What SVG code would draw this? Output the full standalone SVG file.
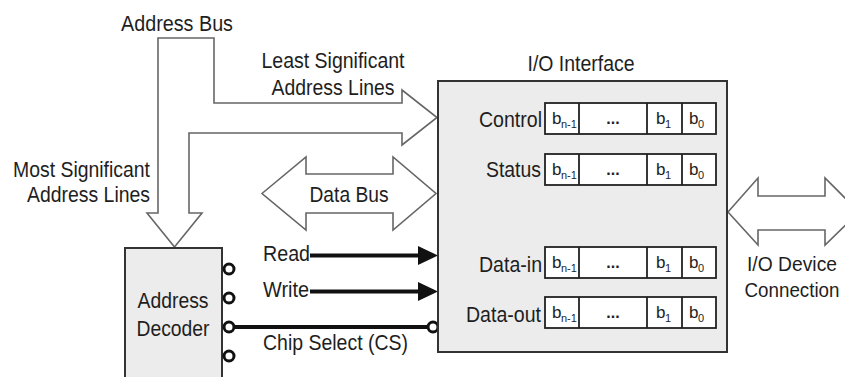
<svg xmlns="http://www.w3.org/2000/svg" width="845" height="377" viewBox="0 0 845 377">
<defs>
<style>
text{font-family:"Liberation Sans",Arial,sans-serif;font-size:22px;fill:#1e1e1e}
.mid{text-anchor:middle}
.end{text-anchor:end}
.edge{font-size:20px}
.bus{fill:#fff;stroke:#666;stroke-width:1.6;stroke-linejoin:miter}
.box{fill:#ececec;stroke:#333;stroke-width:2}
.cell{fill:#fff;stroke:#222;stroke-width:1.8}
.b{font-size:17px}
.sub{font-size:11px}
.dots{font-size:16px;font-weight:bold}
.sig{stroke:#111;stroke-width:4;fill:none}
.bub{fill:#fff;stroke:#111;stroke-width:3}
.head{fill:#111}
</style>
<g id="reg">
<rect class="cell" x="0" y="0" width="171" height="31"/>
<line x1="34" y1="0" x2="34" y2="31" stroke="#222" stroke-width="1.8"/>
<line x1="102" y1="0" x2="102" y2="31" stroke="#222" stroke-width="1.8"/>
<line x1="137" y1="0" x2="137" y2="31" stroke="#222" stroke-width="1.8"/>
<text class="b" x="7" y="21">b</text><text class="sub" x="16" y="25">n-1</text>
<text class="dots mid" x="68" y="21">...</text>
<text class="b" x="111" y="21">b</text><text class="sub" x="120" y="25">1</text>
<text class="b" x="144" y="21">b</text><text class="sub" x="153" y="25">0</text>
</g>
</defs>

<g id="connectors">
<path id="address-bus" class="bus" d="M158,38 L214,38 L214,103 L402,103 L402,90 L437,117.5 L402,145 L402,133 L189,133 L189,213 L202,213 L174.5,247 L147,213 L158,213 Z"/>
<path id="data-bus" class="bus" d="M262,193.5 L306,157 L306,174 L393,174 L393,157 L436,193.5 L393,230 L393,213 L306,213 L306,230 Z"/>
<path id="io-device-bus" class="bus" d="M728,212 L758,178 L758,196 L825,196 L825,178 L859,212 L825,245 L825,230 L758,230 L758,245 Z"/>
<g id="read">
<line class="sig" x1="310" y1="255.5" x2="422" y2="255.5"/>
<polygon class="head" points="418,246 438,255.5 418,265"/>
</g>
<g id="write">
<line class="sig" x1="310" y1="291.5" x2="422" y2="291.5"/>
<polygon class="head" points="418,282 438,291.5 418,301"/>
</g>
<g id="chip-select">
<line class="sig" x1="234" y1="327" x2="428" y2="327"/>
<circle class="bub" cx="433" cy="327" r="5"/>
</g>
</g>

<g id="labels">
<text class="mid" x="177" y="31" textLength="112" lengthAdjust="spacingAndGlyphs">Address Bus</text>
<text class="mid" x="333" y="68" textLength="143" lengthAdjust="spacingAndGlyphs">Least Significant</text>
<text class="mid" x="333" y="95" textLength="123" lengthAdjust="spacingAndGlyphs">Address Lines</text>
<text class="end" x="150" y="177" textLength="137" lengthAdjust="spacingAndGlyphs">Most Significant</text>
<text class="end" x="150" y="202" textLength="123" lengthAdjust="spacingAndGlyphs">Address Lines</text>
<text class="mid" x="349" y="202" textLength="79" lengthAdjust="spacingAndGlyphs">Data Bus</text>
<text x="263" y="261" textLength="47" lengthAdjust="spacingAndGlyphs">Read</text>
<text x="263" y="297" textLength="46" lengthAdjust="spacingAndGlyphs">Write</text>
<text x="263" y="350" textLength="145" lengthAdjust="spacingAndGlyphs">Chip Select (CS)</text>
<text class="mid edge" x="792" y="271" textLength="90" lengthAdjust="spacingAndGlyphs">I/O Device</text>
<text class="mid edge" x="792" y="297" textLength="95" lengthAdjust="spacingAndGlyphs">Connection</text>
</g>

<g id="address-decoder">
<rect class="box" x="125" y="248" width="97" height="150"/>
<text class="mid" x="173" y="308" textLength="71" lengthAdjust="spacingAndGlyphs">Address</text>
<text class="mid" x="173" y="336" textLength="73" lengthAdjust="spacingAndGlyphs">Decoder</text>
<circle class="bub" cx="229" cy="269" r="5"/>
<circle class="bub" cx="229" cy="298" r="5"/>
<circle class="bub" cx="229" cy="327" r="5"/>
<circle class="bub" cx="229" cy="356" r="5"/>
</g>

<g id="io-interface">
<text class="mid" x="581" y="71" textLength="107" lengthAdjust="spacingAndGlyphs">I/O Interface</text>
<rect class="box" x="438" y="81" width="289" height="271"/>
<text class="end" x="542" y="127" textLength="63" lengthAdjust="spacingAndGlyphs">Control</text>
<use href="#reg" x="545" y="103"/>
<text class="end" x="541" y="177" textLength="55" lengthAdjust="spacingAndGlyphs">Status</text>
<use href="#reg" x="545" y="154"/>
<text class="end" x="542" y="272" textLength="63" lengthAdjust="spacingAndGlyphs">Data-in</text>
<use href="#reg" x="545" y="247"/>
<text class="end" x="541" y="322" textLength="75" lengthAdjust="spacingAndGlyphs">Data-out</text>
<use href="#reg" x="545" y="297"/>
</g>
</svg>
